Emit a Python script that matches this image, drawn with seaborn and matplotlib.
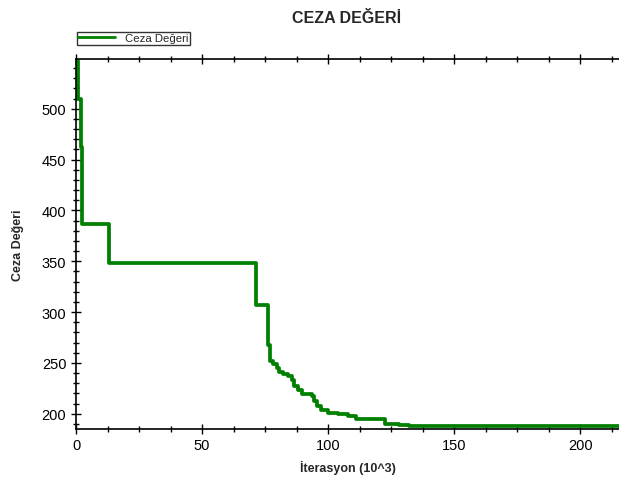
import seaborn as sns
import matplotlib.pyplot as plt
from matplotlib.ticker import MultipleLocator
import pandas as pd

# step curve (iteration in 10^3, penalty value)
iterasyon = [0, 0.8, 1.9, 2.4, 13.2, 71.5, 76.3, 76.8, 78.0, 79.5, 80.5, 82.0,
             84.0, 85.5, 86.5, 88.0, 89.5, 93.5, 94.5, 95.5, 97.0, 100.0,
             104.0, 108.0, 111.0, 122.5, 128.0, 132.0, 216.0]
ceza = [547, 510, 462, 387, 348, 307, 268, 252, 249, 245, 241, 239,
        237, 233, 227, 223, 219, 217, 213, 208, 204, 201,
        200, 198, 195, 190, 189, 188, 188]
x_labels = [0, 50, 100, 150, 200]
y_labels = [200, 250, 300, 350, 400, 450, 500]

df = pd.DataFrame({"x": iterasyon, "y": ceza})

sns.set_style("white")
plt.rcParams['font.family'] = ['Liberation Sans', 'DejaVu Sans']

fig = plt.figure(figsize=(6.19, 4.85), dpi=100)
ax = fig.add_axes([0.1228, 0.1134, 0.88, 0.7629])

sns.lineplot(data=df, x="x", y="y", ax=ax, color="#008000", linewidth=2.7,
             drawstyle="steps-post", label="Ceza Değeri", legend=False)

ax.set_xlim(0, 216)
ax.set_ylim(185, 549)
ax.set_xticks(x_labels)
ax.set_yticks(y_labels)
ax.xaxis.set_minor_locator(MultipleLocator(12.5))
ax.yaxis.set_minor_locator(MultipleLocator(10))
ax.tick_params(which="both", direction="inout", colors="black", labelsize=10.5,
               top=True, left=True, bottom=True)
ax.tick_params(which="major", length=7, width=1)
ax.tick_params(which="minor", length=5, width=1)
ax.tick_params(axis="x", which="both", labeltop=False)
ax.tick_params(axis="x", which="major", pad=3)

for s in ["left", "bottom", "top"]:
    ax.spines[s].set_color("black")
    ax.spines[s].set_linewidth(1.2)
ax.spines["right"].set_visible(False)

ax.set_xlabel("İterasyon (10^3)", fontsize=9, fontweight="bold", labelpad=6)
ax.set_ylabel("Ceza Değeri", fontsize=9, fontweight="bold", labelpad=13)
fig.suptitle("CEZA DEĞERİ", x=0.56, y=0.978, fontsize=11.5, fontweight="bold")

handles, labels = ax.get_legend_handles_labels()
leg = fig.legend(handles, labels, loc="lower left", bbox_to_anchor=(0.124, 0.905),
                 fontsize=8.2, frameon=True, fancybox=False, handlelength=3.2,
                 borderpad=0.15, handletextpad=0.9, borderaxespad=0)
leg.get_frame().set_edgecolor("black")
leg.get_frame().set_linewidth(1)
leg.get_lines()[0].set_linewidth(2)

fig.savefig("out.png", dpi=100)
